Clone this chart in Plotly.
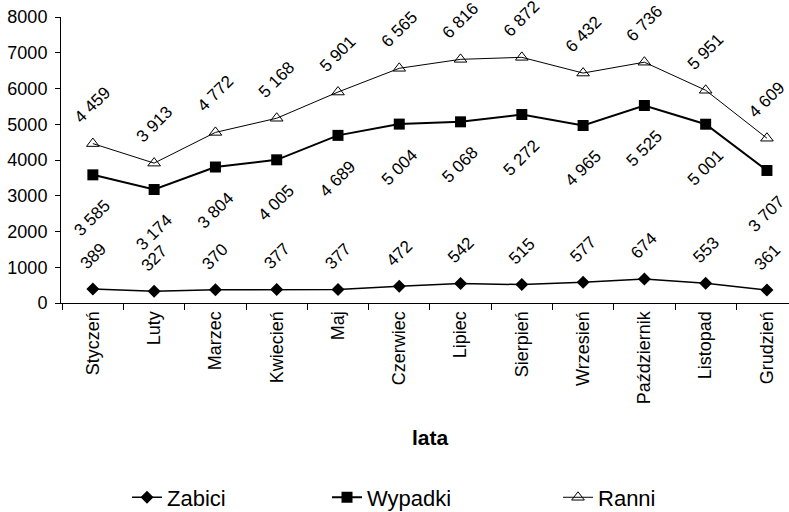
import plotly.graph_objects as go

months = ["Styczeń", "Luty", "Marzec", "Kwiecień", "Maj", "Czerwiec",
          "Lipiec", "Sierpień", "Wrzesień", "Październik", "Listopad", "Grudzień"]
zabici = [389, 327, 370, 377, 377, 472, 542, 515, 577, 674, 553, 361]
wypadki = [3585, 3174, 3804, 4005, 4689, 5004, 5068, 5272, 4965, 5525, 5001, 3707]
ranni = [4459, 3913, 4772, 5168, 5901, 6565, 6816, 6872, 6432, 6736, 5951, 4609]
y_ticks = [0, 1000, 2000, 3000, 4000, 5000, 6000, 7000, 8000]

FONT = "Liberation Sans, Arial, sans-serif"


def fmt(v):
    return f"{v:,}".replace(",", " ")


fig = go.Figure()
fig.add_trace(go.Scatter(
    x=months, y=zabici, name="Zabici", mode="lines+markers",
    line=dict(color="black", width=1.5),
    marker=dict(symbol="diamond", size=10, color="black"),
    legend="legend",
))
fig.add_trace(go.Scatter(
    x=months, y=wypadki, name="Wypadki", mode="lines+markers",
    line=dict(color="black", width=2),
    marker=dict(symbol="square", size=11, color="black"),
    legend="legend2",
))
fig.add_trace(go.Scatter(
    x=months, y=ranni, name="Ranni", mode="lines+markers",
    line=dict(color="black", width=1),
    marker=dict(symbol="triangle-up-open", size=11, color="black",
                line=dict(width=1, color="black")),
    legend="legend3",
))

annotations = []
for series, shift in ((ranni, 39), (wypadki, -43), (zabici, 33)):
    for m, v in zip(months, series):
        annotations.append(dict(
            x=m, y=v, xref="x", yref="y", text=fmt(v), showarrow=False,
            textangle=-45, yshift=shift,
            font=dict(family=FONT, size=17, color="black"),
        ))
annotations.append(dict(
    x=0.507, y=-0.47, xref="paper", yref="paper", text="<b>lata</b>",
    showarrow=False, xanchor="center", yanchor="middle",
    font=dict(family=FONT, size=21, color="black"),
))

leg_common = dict(orientation="h", xanchor="left", y=-0.68, yanchor="middle",
                  font=dict(family=FONT, size=22, color="black"),
                  bgcolor="rgba(0,0,0,0)")

fig.update_layout(
    width=789, height=512,
    margin=dict(l=61, r=0, t=17, b=209, autoexpand=False),
    paper_bgcolor="white", plot_bgcolor="white",
    showlegend=True,
    legend=dict(x=0.0907, **leg_common),
    legend2=dict(x=0.3654, **leg_common),
    legend3=dict(x=0.6827, **leg_common),
    annotations=annotations,
    xaxis=dict(
        type="category", range=[-0.52, 11.36], automargin=False,
        showline=True, linecolor="black", linewidth=1,
        ticks="outside", tickson="boundaries", ticklen=6, tickcolor="black",
        tickangle=-90, showgrid=False, zeroline=False,
        tickfont=dict(family=FONT, size=18, color="black"),
    ),
    yaxis=dict(
        range=[0, 8000], tickvals=y_ticks, automargin=False,
        showline=True, linecolor="black", linewidth=1,
        ticks="outside", ticklen=5, tickcolor="black",
        showgrid=False, zeroline=False, ticklabelstandoff=4,
        tickfont=dict(family=FONT, size=18, color="black"),
    ),
)

fig.write_html("out.html", config={"displayModeBar": False},
               post_script="document.body.style.margin='0';document.body.style.overflow='hidden';")
